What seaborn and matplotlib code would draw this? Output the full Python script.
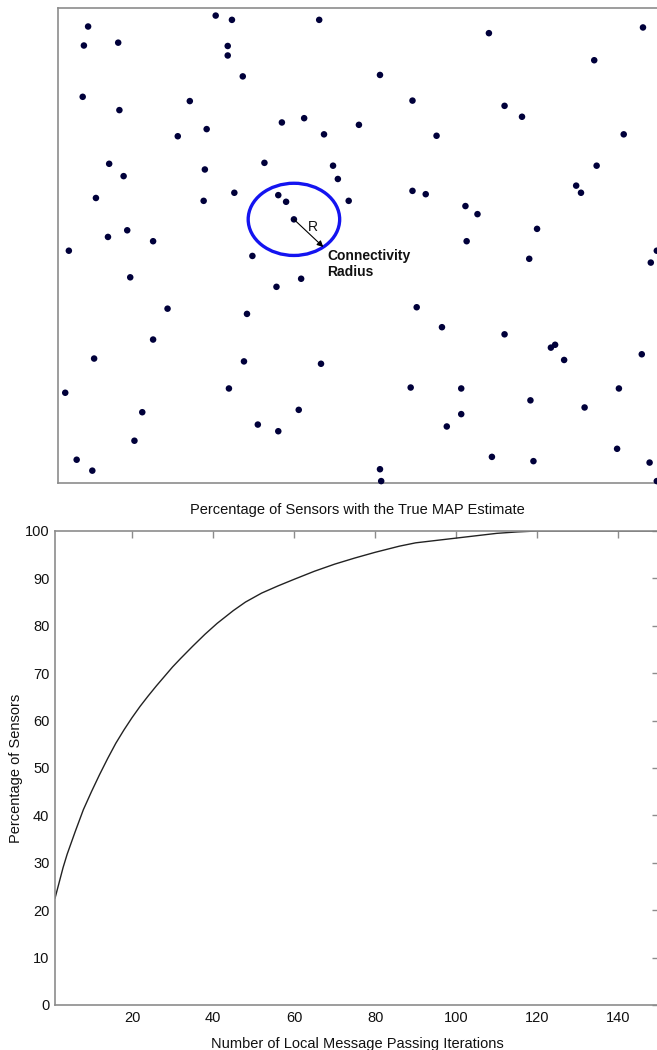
import numpy as np
import seaborn as sns
import matplotlib.pyplot as plt
from matplotlib.patches import Circle

sns.set_style("white")
plt.rcParams['font.family'] = ['Liberation Sans', 'DejaVu Sans']
plt.rcParams.update({
    'font.size': 10.5,
    'text.color': '#111111',
    'axes.labelcolor': '#111111',
    'xtick.labelcolor': '#111111',
    'ytick.labelcolor': '#111111',
})

#%% Sensor positions (unit square)
sensor_x = [0.262, 0.289, 0.434, 0.050, 0.043, 0.100, 0.282, 0.282, 0.307, 0.041,
            0.102, 0.219, 0.372, 0.409, 0.500, 0.247, 0.199, 0.442, 0.085, 0.109,
            0.244, 0.343, 0.457, 0.465, 0.063, 0.242, 0.293, 0.366, 0.379, 0.483,
            0.392, 0.083, 0.115, 0.158, 0.018, 0.716, 0.972, 0.891, 0.535, 0.589,
            0.742, 0.771, 0.629, 0.940, 0.895, 0.589, 0.611, 0.861, 0.869, 0.677,
            0.697, 0.796, 0.679, 0.995, 0.323, 0.120, 0.363, 0.404, 0.182, 0.314,
            0.158, 0.060, 0.309, 0.437, 0.012, 0.284, 0.140, 0.400, 0.332, 0.366,
            0.127, 0.031, 0.057, 0.783, 0.985, 0.596, 0.638, 0.742, 0.819, 0.826,
            0.841, 0.970, 0.586, 0.670, 0.932, 0.785, 0.670, 0.875, 0.646, 0.929,
            0.721, 0.790, 0.983, 0.535, 0.537, 0.995]
sensor_y = [0.984, 0.975, 0.975, 0.961, 0.921, 0.927, 0.920, 0.900, 0.856, 0.813,
            0.785, 0.804, 0.759, 0.768, 0.754, 0.745, 0.730, 0.734, 0.672, 0.646,
            0.660, 0.674, 0.668, 0.640, 0.600, 0.594, 0.611, 0.606, 0.592, 0.594,
            0.555, 0.518, 0.532, 0.509, 0.489, 0.947, 0.959, 0.890, 0.859, 0.805,
            0.794, 0.771, 0.731, 0.734, 0.668, 0.615, 0.608, 0.626, 0.611, 0.583,
            0.566, 0.535, 0.509, 0.489, 0.478, 0.433, 0.413, 0.430, 0.367, 0.356,
            0.302, 0.262, 0.256, 0.251, 0.190, 0.199, 0.149, 0.154, 0.123, 0.109,
            0.089, 0.049, 0.026, 0.472, 0.464, 0.370, 0.328, 0.313, 0.285, 0.291,
            0.259, 0.271, 0.201, 0.199, 0.199, 0.174, 0.145, 0.159, 0.119, 0.072,
            0.055, 0.046, 0.043, 0.029, 0.004, 0.004]
center_idx = 30       # sensor drawn with its connectivity circle
conn_radius = 0.076

#%% Convergence curve
iterations = [1, 3, 4, 6, 8, 10, 12, 14, 16, 18, 20, 22, 24, 26, 28, 30, 32, 35,
              38, 41, 45, 48, 52, 56, 60, 65, 70, 75, 80, 86, 90, 95, 100, 105,
              110, 115, 120, 130, 140, 150]
pct_map = [22.5, 29.0, 31.8, 36.6, 41.2, 45.0, 48.6, 52.0, 55.2, 58.0, 60.6, 63.0,
           65.2, 67.3, 69.3, 71.3, 73.1, 75.7, 78.2, 80.5, 83.2, 85.0, 86.9, 88.4,
           89.8, 91.5, 93.0, 94.3, 95.5, 96.8, 97.5, 98.0, 98.5, 99.0, 99.5, 99.8,
           100.0, 100.0, 100.0, 100.0]

#%% Figure
fig = plt.figure(figsize=(6.57, 10.5), dpi=100)
frame_col = '#8c8c8c'

# --- top panel: sensor field
ax1 = fig.add_axes([0.0883, 0.540, 0.916, 0.4524])
sns.scatterplot(x=sensor_x, y=sensor_y, color='#00003a', s=22, edgecolor='none',
                ax=ax1, clip_on=False, zorder=3)
cx, cy = sensor_x[center_idx], sensor_y[center_idx]
ax1.add_patch(Circle((cx, cy), conn_radius, fill=False, color='#1414f0', lw=2.4))
ang = np.deg2rad(-50)
tip = (cx + conn_radius * np.cos(ang), cy + conn_radius * np.sin(ang))
ax1.annotate('', xy=tip, xytext=(cx, cy),
             arrowprops=dict(arrowstyle='-|>', color='black', lw=0.8,
                             mutation_scale=9, shrinkA=0, shrinkB=0))
ax1.text(cx + 0.032, cy - 0.016, 'R', fontsize=10, ha='center', va='center')
ax1.text(0.448, 0.492, 'Connectivity\nRadius', fontsize=10, fontweight='bold',
         ha='left', va='top', linespacing=1.15)
ax1.set_xlim(0, 1)
ax1.set_ylim(0, 1)
ax1.set_xticks([])
ax1.set_yticks([])
for sp in ax1.spines.values():
    sp.set_color(frame_col)
    sp.set_linewidth(1.2)

# --- bottom panel: convergence
ax2 = fig.add_axes([0.0837, 0.0429, 0.919, 0.4514])
sns.lineplot(x=iterations, y=pct_map, color='#222222', lw=1.0, ax=ax2)
ax2.set_xlim(1, 150)
ax2.set_ylim(0, 100)
ax2.set_xticks(range(20, 141, 20))
ax2.set_yticks(range(0, 101, 10))
ax2.tick_params(direction='in', top=True, right=True, length=5, width=1,
                color=frame_col, labelsize=10.5, pad=4)
for sp in ax2.spines.values():
    sp.set_color(frame_col)
    sp.set_linewidth(1.2)
ax2.set_title('Percentage of Sensors with the True MAP Estimate', fontsize=10.5, pad=12)
ax2.set_xlabel('Number of Local Message Passing Iterations', fontsize=10.5, labelpad=9)
ax2.set_ylabel('Percentage of Sensors', fontsize=10.5, labelpad=1)

fig.savefig('out.png', dpi=100)
